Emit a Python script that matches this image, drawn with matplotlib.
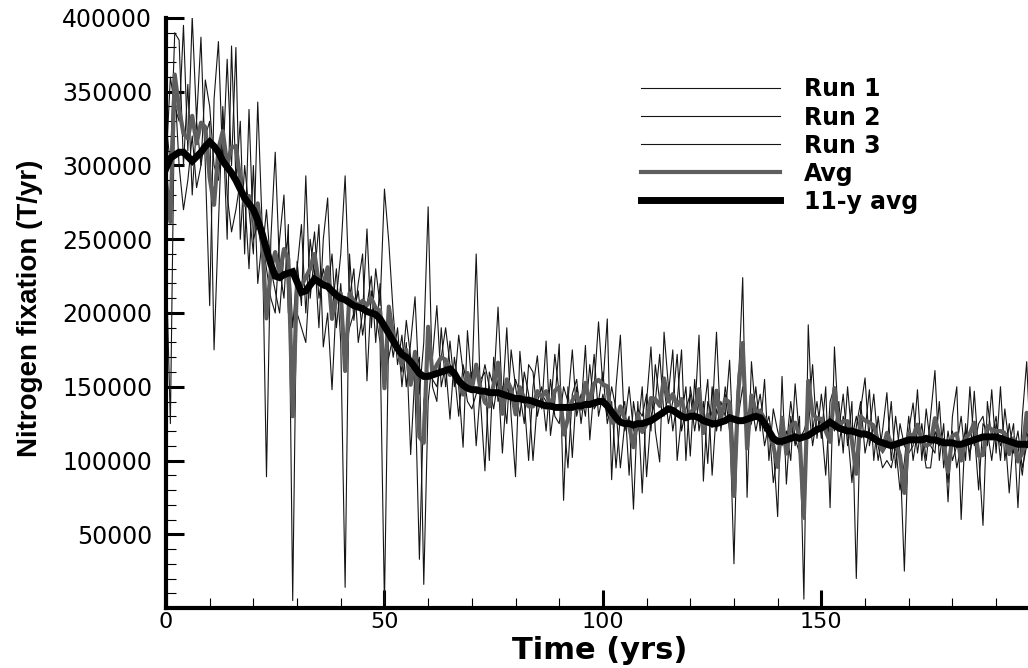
import matplotlib
matplotlib.use("Agg")
import matplotlib.pyplot as plt
import numpy as np
from matplotlib.ticker import MultipleLocator, FixedLocator
from matplotlib.font_manager import FontProperties

# ---------------- data (values in thousand T/yr) ----------------
years = list(range(200))

run1_k = [300, 360, 340, 330, 395, 310, 401, 330, 387, 300,
          205, 345, 384, 300, 372, 300, 380, 250, 300, 270,
          240, 343, 260, 89, 250, 309, 230, 210, 260, 5,
          235, 205, 293, 210, 240, 190, 250, 278, 200, 230,
          180, 14, 240, 195, 220, 240, 154, 215, 200, 180,
          3, 195, 170, 190, 150, 180, 104, 160, 170, 16,
          140, 170, 205, 150, 165, 128, 170, 150, 109, 188,
          150, 240, 140, 93, 160, 150, 204, 140, 190, 130,
          89, 174, 140, 100, 150, 171, 135, 181, 117, 140,
          179, 73, 150, 102, 150, 135, 178, 114, 150, 194,
          150, 196, 87, 150, 185, 120, 130, 67, 140, 78,
          140, 177, 120, 99, 187, 150, 120, 140, 175, 100,
          150, 130, 185, 86, 140, 130, 187, 120, 150, 130,
          30, 150, 224, 75, 167, 130, 145, 120, 130, 110,
          62, 157, 84, 130, 110, 130, 6, 192, 120, 140,
          115, 150, 68, 177, 120, 145, 110, 140, 20, 135,
          156, 110, 125, 100, 120, 146, 100, 130, 105, 25,
          120, 139, 105, 125, 100, 130, 161, 100, 125, 72,
          130, 150, 60, 125, 100, 147, 105, 56, 140, 115,
          130, 100, 135, 110, 125, 68, 130, 167, 100, 120]

run2_k = [330, 300, 390, 385, 300, 355, 280, 330, 300, 358,
          340, 300, 290, 330, 250, 381, 290, 330, 240, 338,
          250, 260, 240, 270, 230, 215, 200, 240, 250, 190,
          230, 260, 200, 250, 225, 260, 177, 200, 148, 210,
          240, 293, 210, 230, 180, 200, 257, 190, 230, 205,
          284, 248, 200, 165, 185, 150, 180, 211, 145, 180,
          272, 150, 140, 190, 150, 181, 150, 185, 160, 140,
          135, 145, 155, 160, 100, 170, 140, 150, 125, 175,
          150, 130, 160, 145, 100, 140, 150, 120, 155, 130,
          125, 150, 140, 175, 130, 145, 130, 165, 135, 140,
          160, 125, 140, 95, 130, 140, 90, 140, 120, 150,
          89, 130, 140, 172, 130, 145, 175, 100, 130, 150,
          103, 155, 120, 140, 98, 150, 120, 140, 130, 168,
          100, 130, 150, 120, 125, 150, 120, 155, 100, 135,
          120, 110, 120, 100, 152, 115, 120, 130, 165, 115,
          145, 120, 130, 120, 140, 105, 150, 115, 130, 115,
          120, 148, 100, 130, 105, 110, 140, 95, 125, 110,
          105, 110, 148, 100, 135, 110, 105, 140, 95, 120,
          100, 110, 130, 100, 150, 110, 125, 130, 110, 148,
          105, 150, 100, 125, 105, 120, 95, 110, 125, 105]

run3_k = [240, 125, 355, 300, 270, 290, 320, 285, 300, 320,
          330, 175, 260, 340, 280, 255, 270, 290, 280, 230,
          300, 220, 250, 230, 210, 200, 250, 280, 200, 195,
          200, 190, 180, 230, 255, 210, 230, 215, 240, 190,
          220, 175, 190, 200, 215, 185, 205, 225, 180, 220,
          160, 170, 185, 175, 160, 195, 170, 150, 33, 140,
          160, 155, 150, 170, 190, 165, 160, 130, 165, 150,
          160, 110, 150, 165, 150, 135, 155, 105, 150, 140,
          155, 145, 125, 165, 160, 130, 145, 140, 135, 172,
          145, 130, 95, 145, 155, 125, 150, 140, 172, 130,
          145, 130, 150, 135, 95, 125, 150, 120, 135, 130,
          145, 120, 165, 140, 150, 125, 140, 172, 120, 135,
          145, 120, 140, 130, 155, 90, 135, 125, 145, 120,
          98, 160, 165, 130, 140, 120, 135, 110, 125, 85,
          105, 120, 110, 140, 115, 105, 60, 140, 110, 130,
          125, 90, 140, 150, 110, 130, 120, 85, 123, 140,
          105, 120, 145, 110, 95, 100, 95, 110, 80, 99,
          130, 100, 120, 115, 95, 95, 120, 110, 115, 85,
          120, 95, 110, 120, 105, 120, 80, 125, 120, 100,
          125, 110, 120, 78, 115, 110, 90, 120, 105, 115]

avg11_k = [298, 305, 307, 309, 309, 306, 303, 306, 309, 313,
           316, 313, 309, 303, 299, 295, 290, 284, 278, 274,
           270, 263, 254, 243, 233, 225, 224, 226, 227, 228,
           221, 214, 215, 219, 223, 221, 219, 218, 215, 212,
           210, 209, 207, 205, 204, 203, 201, 200, 199, 196,
           191, 186, 181, 176, 172, 170, 167, 163, 159, 157,
           157, 158, 159, 160, 161, 162, 159, 154, 151, 149,
           148, 148, 147, 147, 146, 146, 146, 145, 144, 143,
           142, 142, 141, 141, 140, 139, 138, 137, 137, 136,
           136, 136, 136, 136, 137, 137, 138, 138, 139, 140,
           140, 137, 133, 129, 126, 125, 125, 124, 125, 125,
           126, 127, 129, 131, 133, 135, 134, 132, 130, 129,
           130, 130, 129, 127, 126, 125, 125, 126, 127, 129,
           128, 127, 127, 128, 129, 130, 129, 125, 120, 115,
           113, 113, 114, 115, 116, 115, 116, 117, 119, 121,
           122, 124, 126, 124, 122, 121, 120, 120, 119, 118,
           118, 117, 115, 113, 112, 111, 110, 111, 112, 113,
           114, 114, 114, 114, 115, 114, 114, 113, 112, 112,
           112, 111, 111, 112, 113, 114, 115, 116, 116, 116,
           116, 115, 114, 113, 112, 111, 111, 111, 110, 110]

labels = ["Run 1", "Run 2", "Run 3", "Avg", "11-y avg"]
xticks = [0, 50, 100, 150, 200]
yticks = [50000, 100000, 150000, 200000, 250000, 300000, 350000, 400000]

# ---------------- figure ----------------
W, H = 1028, 668
fig = plt.figure(figsize=(W / 100, H / 100), dpi=100)
ax = fig.add_axes([166 / W, (H - 608) / H, (W - 166) / W, (608 - 18) / H])

t = np.array(years)
r1 = np.array(run1_k) * 1000.0
r2 = np.array(run2_k) * 1000.0
r3 = np.array(run3_k) * 1000.0
avg = (r1 + r2 + r3) / 3.0
a11 = np.array(avg11_k) * 1000.0

l1, = ax.plot(t, r1, color="#151515", lw=0.8, label=labels[0])
l2, = ax.plot(t, r2, color="#151515", lw=0.8, label=labels[1])
l3, = ax.plot(t, r3, color="#151515", lw=0.8, label=labels[2])
l4, = ax.plot(t, avg, color="#5e5e5e", lw=3.0, label=labels[3])
l5, = ax.plot(t, a11, color="#000000", lw=5.0, label=labels[4],
              solid_joinstyle="miter")

ax.set_xlim(0, 197.3)
ax.set_ylim(0, 400000)

for s in ["top", "right"]:
    ax.spines[s].set_visible(False)
for s in ["left", "bottom"]:
    ax.spines[s].set_linewidth(3.0)
    ax.spines[s].set_color("black")

ax.xaxis.set_major_locator(FixedLocator(xticks))
ax.xaxis.set_minor_locator(MultipleLocator(10))
ax.yaxis.set_major_locator(FixedLocator(yticks))
ax.yaxis.set_minor_locator(MultipleLocator(10000))

ytick_font = FontProperties(family="DejaVu Sans", size=17)
xtick_font = FontProperties(family="DejaVu Sans", size=16)
ax.tick_params(which="major", direction="in", length=13, width=2.2, color="black")
ax.tick_params(which="minor", direction="in", length=7, width=0.8, color="black")
ax.tick_params(axis="y", which="major", pad=10)
ax.tick_params(axis="x", which="major", pad=3)
for lab in ax.get_yticklabels():
    lab.set_fontproperties(ytick_font)
for lab in ax.get_xticklabels():
    lab.set_fontproperties(xtick_font)

ax.set_xlabel("Time (yrs)", fontsize=22, fontweight="bold",
              family="DejaVu Sans")
ax.xaxis.set_label_coords((600 - 166) / 862, -(636 - 608) / 590)
ax.set_ylabel("Nitrogen fixation (T/yr)", fontsize=20, fontweight="bold",
              family="Liberation Sans")
ax.yaxis.set_label_coords(-(166 - 43) / 862, (608 - 308) / 590)

leg_font = FontProperties(family="DejaVu Sans", weight="bold", size=17)
leg = ax.legend(handles=[l1, l2, l3, l4, l5], loc="upper left",
                bbox_to_anchor=(641 / W, 1 - 77.5 / H),
                bbox_transform=fig.transFigure, frameon=False,
                borderpad=0, borderaxespad=0, handlelength=5.9,
                handletextpad=1.0, labelspacing=0.17, prop=leg_font)

fig.savefig("out.png", dpi=100, facecolor="white")
